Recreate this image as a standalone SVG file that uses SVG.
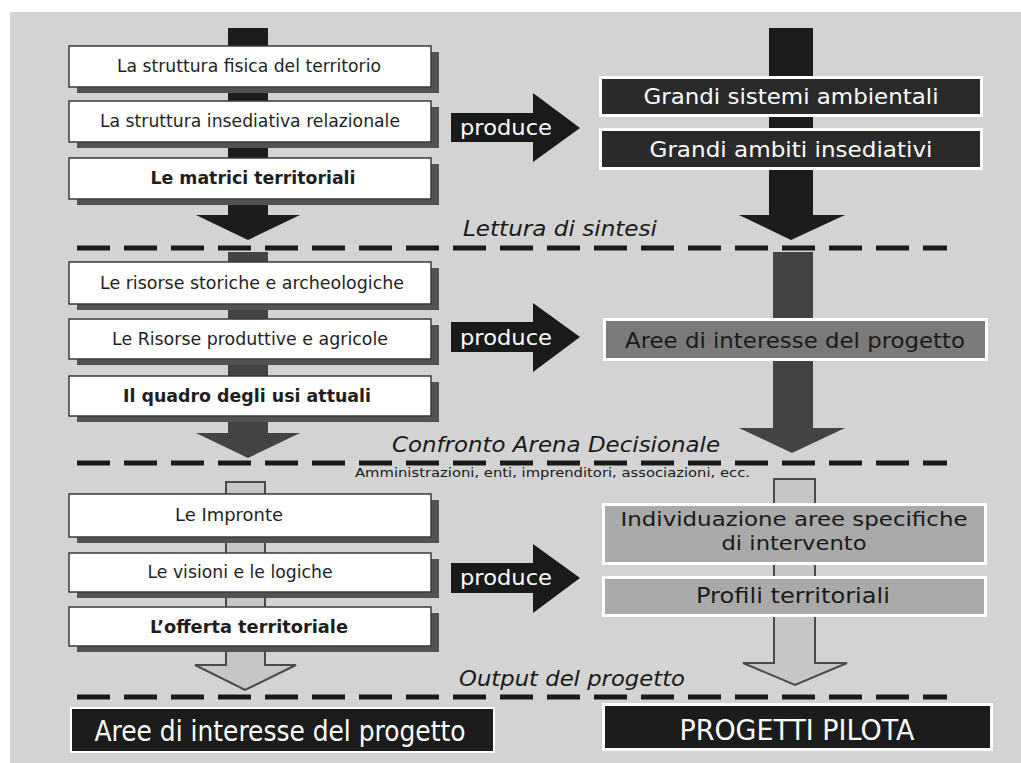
<svg xmlns="http://www.w3.org/2000/svg" width="1021" height="763" viewBox="0 0 1021 763">
<style>
.bg{fill:#d3d3d3}
.shadow{fill:#525252}
.lbox{fill:#ffffff;stroke:#3a3a3a;stroke-width:1.5}
.lt{font-family:"DejaVu Sans",Verdana,sans-serif;font-size:17px;fill:#1e1e1e;text-anchor:middle}
.lb{font-weight:bold}
.rt{font-family:"DejaVu Sans",Verdana,sans-serif;font-size:22px;text-anchor:middle}
.rs{font-size:20px}
.w{fill:#ffffff}
.k{fill:#1a1a1a}
.it{font-family:"DejaVu Sans",Verdana,sans-serif;font-size:21px;font-style:italic;fill:#1a1a1a}
.sub{font-family:"DejaVu Sans",Verdana,sans-serif;font-size:13px;fill:#1a1a1a}
.rb{stroke:#ffffff;stroke-width:3}
.dash{stroke:#1a1a1a;stroke-width:5;stroke-dasharray:33 14;fill:none}
.black{fill:#1c1c1c}
.dgray{fill:#434343}
.hollow{fill:#c6c6c6;stroke:#4a4a4a;stroke-width:2}
.prod{fill:#1a1a1a}
.big{font-family:"DejaVu Sans",Verdana,sans-serif;font-size:28px;fill:#ffffff;text-anchor:middle}
</style>
<rect x="0" y="0" width="1021" height="763" fill="#ffffff"/>
<rect class="bg" x="10" y="12" width="1011" height="751"/>

<g id="separators">
<line class="dash" x1="77" y1="248" x2="947" y2="248"/>
<line class="dash" x1="77" y1="463" x2="947" y2="463"/>
<line class="dash" x1="77" y1="697" x2="947" y2="697"/>
</g>

<g id="connectors">
<path class="black" d="M228,28 H268 V215 H300 L248,240 L196,215 H228 Z"/>
<path class="black" d="M769,28 H813 V215 H845 L791,240 L739,215 H769 Z"/>
<path class="dgray" d="M228,252 H268 V433 H300 L248,458 L196,433 H228 Z"/>
<path class="dgray" d="M773,252 H813 V428 H845 L792,453 L739,428 H773 Z"/>
<path class="hollow" d="M226,482 H265 V665 H296 L245,690 L195,665 H226 Z"/>
<path class="hollow" d="M774,479 H815 V663 H847 L795,685 L743,663 H774 Z"/>
<g id="produce1">
<path class="prod" d="M451,113 H533 V93 L580,128 L533,162 V142 H451 Z"/>
<text class="rt w" x="460" y="135" style="text-anchor:start" textLength="92" lengthAdjust="spacingAndGlyphs">produce</text>
</g>
<g id="produce2">
<path class="prod" d="M451,322 H533 V303 L580,337 L533,372 V352 H451 Z"/>
<text class="rt w" x="460" y="345" style="text-anchor:start" textLength="92" lengthAdjust="spacingAndGlyphs">produce</text>
</g>
<g id="produce3">
<path class="prod" d="M451,563 H533 V544 L580,578 L533,613 V593 H451 Z"/>
<text class="rt w" x="460" y="585" style="text-anchor:start" textLength="92" lengthAdjust="spacingAndGlyphs">produce</text>
</g>
</g>

<g id="labels">
<text class="it" x="463" y="236" textLength="194" lengthAdjust="spacingAndGlyphs">Lettura di sintesi</text>
<text class="it" x="392" y="452" textLength="328" lengthAdjust="spacingAndGlyphs">Confronto Arena Decisionale</text>
<text class="sub" x="355" y="477" textLength="395" lengthAdjust="spacingAndGlyphs">Amministrazioni, enti, imprenditori, associazioni, ecc.</text>
<text class="it" x="459" y="686" textLength="226" lengthAdjust="spacingAndGlyphs">Output del progetto</text>
</g>

<g id="node-struttura-fisica">
<rect class="shadow" x="77" y="52" width="362" height="41"/>
<rect class="lbox" x="69" y="46" width="362" height="41"/>
<text class="lt" x="249" y="72" textLength="264" lengthAdjust="spacingAndGlyphs">La struttura fisica del territorio</text>
</g>
<g id="node-struttura-insediativa">
<rect class="shadow" x="77" y="107" width="362" height="41"/>
<rect class="lbox" x="69" y="101" width="362" height="41"/>
<text class="lt" x="250" y="127" textLength="300" lengthAdjust="spacingAndGlyphs">La struttura insediativa relazionale</text>
</g>
<g id="node-matrici">
<rect class="shadow" x="77" y="164" width="362" height="41"/>
<rect class="lbox" x="69" y="158" width="362" height="41"/>
<text class="lt lb" x="253" y="184" textLength="205" lengthAdjust="spacingAndGlyphs">Le matrici territoriali</text>
</g>

<g id="node-risorse-storiche">
<rect class="shadow" x="77" y="268" width="362" height="42"/>
<rect class="lbox" x="69" y="262" width="362" height="42"/>
<text class="lt" x="252" y="289" textLength="304" lengthAdjust="spacingAndGlyphs">Le risorse storiche e archeologiche</text>
</g>
<g id="node-risorse-produttive">
<rect class="shadow" x="77" y="325" width="362" height="40"/>
<rect class="lbox" x="69" y="319" width="362" height="40"/>
<text class="lt" x="250" y="345" textLength="276" lengthAdjust="spacingAndGlyphs">Le Risorse produttive e agricole</text>
</g>
<g id="node-quadro-usi">
<rect class="shadow" x="77" y="382" width="362" height="40"/>
<rect class="lbox" x="69" y="376" width="362" height="40"/>
<text class="lt lb" x="247" y="402" textLength="248" lengthAdjust="spacingAndGlyphs">Il quadro degli usi attuali</text>
</g>

<g id="node-impronte">
<rect class="shadow" x="77" y="500" width="362" height="43"/>
<rect class="lbox" x="69" y="494" width="362" height="43"/>
<text class="lt" x="229" y="521" textLength="108" lengthAdjust="spacingAndGlyphs">Le Impronte</text>
</g>
<g id="node-visioni">
<rect class="shadow" x="77" y="559" width="362" height="39"/>
<rect class="lbox" x="69" y="553" width="362" height="39"/>
<text class="lt" x="240" y="578" textLength="185" lengthAdjust="spacingAndGlyphs">Le visioni e le logiche</text>
</g>
<g id="node-offerta">
<rect class="shadow" x="77" y="613" width="362" height="39"/>
<rect class="lbox" x="69" y="607" width="362" height="39"/>
<text class="lt lb" x="249" y="633" textLength="198" lengthAdjust="spacingAndGlyphs">L’offerta territoriale</text>
</g>

<g id="node-grandi-sistemi">
<rect class="rb" x="600.5" y="77.5" width="381" height="38" fill="#2a2a2a"/>
<text class="rt w" x="791" y="104" textLength="295" lengthAdjust="spacingAndGlyphs">Grandi sistemi ambientali</text>
</g>
<g id="node-grandi-ambiti">
<rect class="rb" x="600.5" y="129.5" width="381" height="39" fill="#2a2a2a"/>
<text class="rt w" x="791" y="157" textLength="283" lengthAdjust="spacingAndGlyphs">Grandi ambiti insediativi</text>
</g>
<g id="node-aree-interesse-mid">
<rect class="rb" x="604.5" y="319.5" width="382" height="40" fill="#7a7a7a"/>
<text class="rt k" x="795" y="348" textLength="340" lengthAdjust="spacingAndGlyphs">Aree di interesse del progetto</text>
</g>
<g id="node-individuazione">
<rect class="rb" x="603.5" y="504.5" width="382" height="59" fill="#a9a9a9"/>
<text class="rt rs k" x="794" y="526" textLength="347" lengthAdjust="spacingAndGlyphs">Individuazione aree specifiche</text>
<text class="rt rs k" x="794" y="550" textLength="145" lengthAdjust="spacingAndGlyphs">di intervento</text>
</g>
<g id="node-profili">
<rect class="rb" x="603.5" y="577.5" width="382" height="38" fill="#a9a9a9"/>
<text class="rt k" x="793" y="603" textLength="194" lengthAdjust="spacingAndGlyphs">Profili territoriali</text>
</g>

<g id="node-aree-interesse-out">
<rect x="71" y="708" width="423" height="44" fill="#1c1c1c" stroke="#ffffff" stroke-width="2"/>
<text class="big" x="280" y="741" textLength="371" lengthAdjust="spacingAndGlyphs">Aree di interesse del progetto</text>
</g>
<g id="node-progetti-pilota">
<rect x="603.5" y="704.5" width="388" height="45" fill="#1c1c1c" stroke="#ffffff" stroke-width="3"/>
<text class="big" x="797" y="740" textLength="235" lengthAdjust="spacingAndGlyphs">PROGETTI PILOTA</text>
</g>
</svg>
